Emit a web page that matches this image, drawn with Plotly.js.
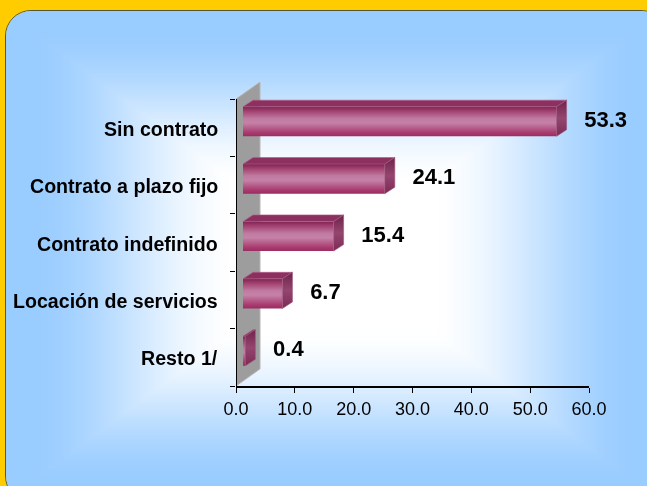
<!DOCTYPE html>
<html>
<head>
<meta charset="utf-8">
<script src="https://cdn.plot.ly/plotly-3.0.1.min.js"></script>
<style>
html, body { margin: 0; padding: 0; background: #FFCC00; width: 647px; height: 486px; overflow: hidden; }
#panel { position: absolute; left: 5px; top: 10px; width: 660px; height: 490px; border: 1px solid #55553a; border-radius: 26px; overflow: hidden; }
#chart { position: absolute; left: 0; top: 0; width: 647px; height: 486px; }
</style>
</head>
<body>
<div id="panel"><canvas id="bg" width="660" height="490"></canvas></div>
<div id="chart"></div>
<script>
// DATA
var categories = ['Sin contrato', 'Contrato a plazo fijo', 'Contrato indefinido', 'Locación de servicios', 'Resto 1/'];
var values = [53.3, 24.1, 15.4, 6.7, 0.4];
var valueLabels = ['53.3', '24.1', '15.4', '6.7', '0.4'];
var xTicks = [0, 10, 20, 30, 40, 50, 60];
var xTickText = ['0.0', '10.0', '20.0', '30.0', '40.0', '50.0', '60.0'];

// BACKGROUND (light blue, white towards the centre)
function paintBackground() {
    var cv = document.getElementById('bg');
    var ctx = cv.getContext('2d');
    var w = cv.width, h = cv.height;
    var img = ctx.createImageData(w, h);
    var cx = 327, cy = 245, hw = 327, hh = 245;
    for (var y = 0; y < h; y++) {
        for (var x = 0; x < w; x++) {
            var t = Math.max(Math.abs(x - cx) / hw, Math.abs(y - cy) / hh);
            var k = (t - 0.28) / (0.94 - 0.28);
            k = Math.min(1, Math.max(0, k));
            var s = 1 - k * k * (3 - 2 * k);
            var i = (y * w + x) * 4;
            img.data[i] = 153 + 102 * s;
            img.data[i + 1] = 204 + 51 * s;
            img.data[i + 2] = 255;
            img.data[i + 3] = 255;
        }
    }
    ctx.putImageData(img, 0, 0);
}
paintBackground();

// GEOMETRY (3D look, in axis units)
var xPerPx = 60 / 353;
var yPerPx = 5.32 / 304;
var frontShift = 7 * xPerPx;
var depthX = 10 * xPerPx;
var depthY = 6.5 * yPerPx;
var faceTop = 21 * yPerPx;
var faceBottom = 8.5 * yPerPx;
var wallX = 24 * xPerPx;
var wallY = 17 * yPerPx;

var n = categories.length;
var ys = categories.map(function (c, i) { return n - 1 - i; });

var traces = [];

// back wall
traces.push({
    x: [0, 0, wallX, wallX, 0],
    y: [-0.5, n - 0.5, n - 0.5 + wallY, -0.5 + wallY, -0.5],
    mode: 'lines', fill: 'toself', fillcolor: '#9d9d9d',
    line: {color: '#b5b5b5', width: 1}, hoverinfo: 'skip', showlegend: false
});

values.forEach(function (v, i) {
    var c = ys[i];
    var x0 = frontShift, x1 = frontShift + v;
    var yt = c + faceTop, yb = c - faceBottom;
    // front face
    traces.push({
        x: [x0, x1, x1, x0, x0], y: [yb, yb, yt, yt, yb],
        mode: 'lines', fill: 'toself',
        fillgradient: {type: 'vertical', colorscale: [
            [0, '#9a2c61'], [0.12, '#a83a6e'], [0.45, '#c582a7'],
            [0.6, '#c07aa1'], [0.85, '#a2416f'], [1, '#7d2351']]},
        line: {width: 0, color: 'rgba(0,0,0,0)'}, hoverinfo: 'skip', showlegend: false
    });
    // top face
    traces.push({
        x: [x0, x1, x1 + depthX, x0 + depthX, x0],
        y: [yt, yt, yt + depthY, yt + depthY, yt],
        mode: 'lines', fill: 'toself', fillcolor: '#8c3060',
        line: {width: 0.6, color: '#b45b88'}, hoverinfo: 'skip', showlegend: false
    });
    // side face
    traces.push({
        x: [x1, x1 + depthX, x1 + depthX, x1, x1],
        y: [yb, yb + depthY, yt + depthY, yt, yb],
        mode: 'lines', fill: 'toself',
        fillgradient: {type: 'vertical', colorscale: [[0, '#7c2a55'], [0.5, '#94466f'], [1, '#6f2249']]},
        line: {width: 0.6, color: '#a0547c'}, hoverinfo: 'skip', showlegend: false
    });
});

// value labels
traces.push({
    x: values.map(function (v) { return v + 5.9; }),
    y: ys.map(function (c) { return c + 0.11; }),
    text: valueLabels,
    mode: 'text', textposition: 'middle right',
    textfont: {family: 'Liberation Sans, Arial, sans-serif', size: 22, color: '#000', weight: 'bold'},
    cliponaxis: false, hoverinfo: 'skip', showlegend: false
});

var annotations = categories.map(function (c, i) {
    return {
        x: 0, y: ys[i], xref: 'x', yref: 'y', text: c, showarrow: false,
        xanchor: 'right', yanchor: 'middle', xshift: -16, yshift: -1,
        font: {family: 'Liberation Sans, Arial, sans-serif', size: 19.6, color: '#000', weight: 'bold'}
    };
});

var boundaries = [];
for (var b = 0; b <= n; b++) boundaries.push(b - 0.5);

var layout = {
    width: 647, height: 486,
    margin: {l: 236, r: 58, t: 82, b: 100},
    paper_bgcolor: 'rgba(0,0,0,0)',
    plot_bgcolor: 'rgba(0,0,0,0)',
    hovermode: false,
    showlegend: false,
    xaxis: {
        range: [0, 60], tickvals: xTicks, ticktext: xTickText,
        showgrid: false, zeroline: false,
        showline: true, linecolor: '#000', linewidth: 2,
        ticks: 'outside', ticklen: 5, tickcolor: '#000', tickwidth: 1,
        tickfont: {family: 'Liberation Sans, Arial, sans-serif', size: 18, color: '#000'}
    },
    yaxis: {
        range: [-0.5, n - 0.5 + wallY], tickvals: boundaries,
        showticklabels: false, showgrid: false, zeroline: false, showline: false,
        ticks: 'outside', ticklen: 5, tickcolor: '#000', tickwidth: 1
    },
    shapes: [{
        type: 'line', xref: 'x', yref: 'y', x0: 0, x1: 0, y0: -0.5, y1: n - 0.5,
        line: {color: '#000', width: 2}
    }],
    annotations: annotations
};

Plotly.newPlot('chart', traces, layout, {displayModeBar: false, staticPlot: true});
</script>
</body>
</html>
